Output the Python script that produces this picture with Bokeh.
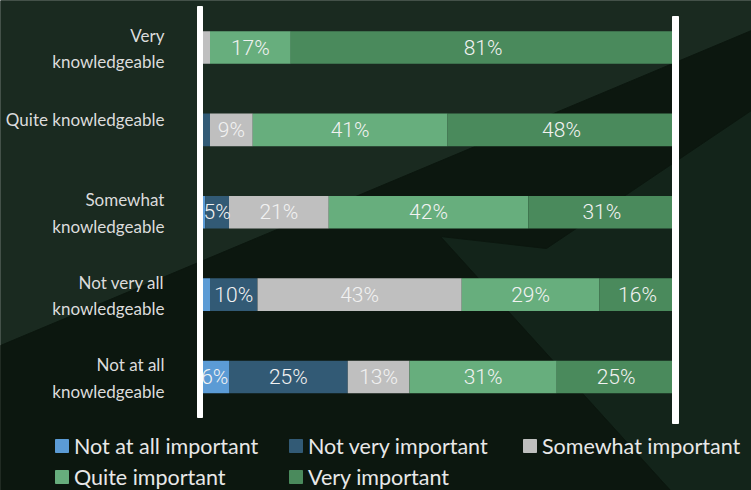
import numpy as np
from bokeh.plotting import figure
from bokeh.models import Range1d, ColumnDataSource
from bokeh.core.properties import value
from bokeh.embed import file_html
from bokeh.resources import INLINE

# ---------------- data ----------------
categories = ["Very\nknowledgeable", "Quite knowledgeable", "Somewhat\nknowledgeable",
              "Not very all\nknowledgeable", "Not at all\nknowledgeable"]
series_names = ["Not at all important", "Not very important", "Somewhat important",
                "Quite important", "Very important"]
not_at_all = [0, 0, 1, 2, 6]
not_very = [0, 2, 5, 10, 25]
somewhat = [2, 9, 21, 43, 13]
quite = [17, 41, 42, 29, 31]
very = [81, 48, 31, 16, 25]
colors = ["#5b9bd5", "#325a75", "#bfbfbf", "#67ae7d", "#4a8a5c"]

series = [not_at_all, not_very, somewhat, quite, very]

# ---------------- figure ----------------
W, H = 751, 490
p = figure(width=W, height=H, output_backend="svg", toolbar_location=None,
           x_range=Range1d(-200 / 4.75, 551 / 4.75),
           y_range=Range1d(5.378, -0.5706),
           min_border=0, x_axis_location=None, y_axis_location=None)
p.background_fill_color = "#1a2a20"
p.border_fill_color = "#1a2a20"
p.outline_line_color = None
p.grid.visible = False
p.extra_x_ranges = {"px": Range1d(0, W)}
p.extra_y_ranges = {"py": Range1d(H, 0)}

# background decoration (screen space)
p.patch([0, 751, 751, 0], [0, 0, 490, 490], color="#1a2a20",
        x_range_name="px", y_range_name="py")
p.patch([430, 751, 751, 670], [236, 110, 490, 490], color="#13241a",
        x_range_name="px", y_range_name="py")
p.patch([0, 751, 751, 546, 440, 670, 0],
        [345, 30, 110, 248, 236, 490, 490], color="#0c170f",
        x_range_name="px", y_range_name="py")

# ---------------- bars ----------------
ypos = np.arange(len(categories))
left = np.zeros(len(categories))
bar_h = 0.395
lx, ly, lt = [], [], []
for vals, col, name in zip(series, colors, series_names):
    v = np.array(vals, dtype=float)
    right = left + v
    src = ColumnDataSource(dict(y=ypos, left=left, right=right))
    p.hbar(y="y", left="left", right="right", height=bar_h, source=src,
           fill_color=col, line_color=None)
    for i in range(len(v)):
        if v[i] >= 5:
            lx.append((left[i] + right[i]) / 2)
            ly.append(ypos[i])
            lt.append(f"{int(v[i])}%")
    left = right

p.text(x=lx, y=ly, text=lt, text_align="center", text_baseline="middle",
       text_font=value("Roboto Light"), text_font_size="21px",
       text_color="#f2f2f2")

# category labels
for i, c in enumerate(categories):
    p.text(x=[-7.6], y=[ypos[i]], text=[c], text_align="right",
           text_baseline="middle", text_font=value("Lato"),
           text_font_size="17px", text_color="#dcdcdc",
           text_line_height=1.27, y_offset=(-10 if "\n" not in c else 1))

# white vertical lines
p.quad(left=[197, 672], right=[202, 678], top=[6, 16], bottom=[417, 423],
       color="white", x_range_name="px", y_range_name="py")

# legend (manual)
col_x = [61.5, 295.5, 529.5]
row_y = [445.5, 476.5]
for k, (name, col) in enumerate(zip(series_names, colors)):
    r, c = divmod(k, 3)
    p.rect(x=[col_x[c]], y=[row_y[r]], width=13, height=13, color=col,
           x_range_name="px", y_range_name="py")
    p.text(x=[col_x[c] + 12], y=[row_y[r]], text=[name], text_align="left",
           text_baseline="middle", text_font=value("Lato"),
           text_font_size="21.5px", text_color="#e8e8e8",
           x_range_name="px", y_range_name="py")

open("out.html", "w").write(file_html(p, INLINE))
